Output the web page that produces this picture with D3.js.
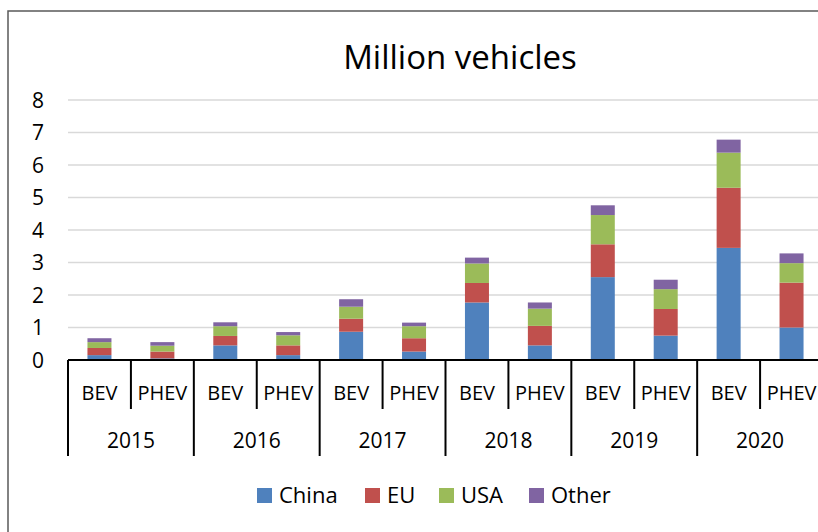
<!DOCTYPE html>
<html>
<head>
<meta charset="utf-8">
<script src="https://cdn.jsdelivr.net/npm/d3@7"></script>
<style>
  html, body { margin: 0; padding: 0; background: #fff; }
  svg { display: block; font-family: "Open Sans", "Liberation Sans", sans-serif; }
</style>
</head>
<body>
<svg id="chart" width="818" height="532"></svg>
<script>
// Electric vehicle stock by region, million vehicles
const years = ["2015", "2016", "2017", "2018", "2019", "2020"];
const types = ["BEV", "PHEV"];
const regions = ["China", "EU", "USA", "Other"];
const colors = ["#4F81BD", "#C0504D", "#9BBB59", "#8064A2"];
const yTicks = [0, 1, 2, 3, 4, 5, 6, 7, 8];

// one value per year/type pair, in order 2015 BEV, 2015 PHEV, 2016 BEV, ...
const china = [0.15, 0.05, 0.45, 0.15, 0.87, 0.26, 1.77, 0.45, 2.55, 0.75, 3.45, 1.00];
const eu    = [0.22, 0.21, 0.29, 0.30, 0.40, 0.41, 0.60, 0.60, 1.01, 0.82, 1.85, 1.38];
const usa   = [0.18, 0.18, 0.30, 0.31, 0.37, 0.37, 0.60, 0.53, 0.90, 0.61, 1.08, 0.60];
const other = [0.12, 0.11, 0.12, 0.10, 0.23, 0.11, 0.18, 0.19, 0.30, 0.29, 0.40, 0.30];

(function () {
  const series = { China: china, EU: eu, USA: usa, Other: other };
  const rows = [];
  years.forEach((yr, i) => types.forEach((t, j) => {
    const k = i * types.length + j;
    const row = { key: yr + "|" + t, year: yr, type: t };
    regions.forEach(r => row[r] = series[r][k]);
    rows.push(row);
  }));

  const svg = d3.select("#chart");
  const plotLeft = 68, plotRight = 823, plotTop = 100, plotBottom = 360;

  // outer frame
  svg.append("rect")
    .attr("x", 8).attr("y", 11).attr("width", 830).attr("height", 540)
    .attr("fill", "none").attr("stroke", "#5a5a5a").attr("stroke-width", 1.5);

  const x = d3.scaleBand().domain(rows.map(d => d.key)).range([plotLeft, plotRight]);
  const yearX = d3.scaleBand().domain(years).range([plotLeft, plotRight]);
  const y = d3.scaleLinear().domain([0, 8]).range([plotBottom, plotTop]);

  // gridlines
  svg.append("g").selectAll("line").data(yTicks.filter(t => t > 0)).join("line")
    .attr("x1", plotLeft).attr("x2", 818)
    .attr("y1", d => y(d)).attr("y2", d => y(d))
    .attr("stroke", "#d9d9d9").attr("stroke-width", 1.6);

  // y tick labels
  svg.append("g").selectAll("text").data(yTicks).join("text")
    .attr("x", 44).attr("y", d => y(d))
    .attr("dy", "0.36em")
    .attr("text-anchor", "end")
    .attr("font-size", 21).attr("fill", "#000")
    .text(d => d);

  // stacked bars
  const stacked = d3.stack().keys(regions)(rows);
  const barW = 24;
  svg.append("g").selectAll("g").data(stacked).join("g")
    .attr("fill", (d, i) => colors[i])
    .selectAll("rect").data(d => d).join("rect")
    .attr("x", d => x(d.data.key) + x.bandwidth() / 2 - barW / 2)
    .attr("width", barW)
    .attr("y", d => y(d[1]))
    .attr("height", d => y(d[0]) - y(d[1]));

  // category axis: baseline, dividers and labels
  const ax = svg.append("g");
  ax.append("line")
    .attr("x1", plotLeft).attr("x2", 818).attr("y1", plotBottom).attr("y2", plotBottom)
    .attr("stroke", "#000").attr("stroke-width", 2);

  // dividers between BEV and PHEV inside each year
  ax.selectAll("line.type").data(years).join("line")
    .attr("class", "type")
    .attr("x1", d => yearX(d) + yearX.bandwidth() / 2)
    .attr("x2", d => yearX(d) + yearX.bandwidth() / 2)
    .attr("y1", plotBottom).attr("y2", 409)
    .attr("stroke", "#000").attr("stroke-width", 2);

  // dividers between years
  ax.selectAll("line.year").data(d3.range(years.length + 1)).join("line")
    .attr("class", "year")
    .attr("x1", i => plotLeft + i * yearX.bandwidth())
    .attr("x2", i => plotLeft + i * yearX.bandwidth())
    .attr("y1", plotBottom).attr("y2", 456)
    .attr("stroke", "#000").attr("stroke-width", 2);

  ax.selectAll("text.type").data(rows).join("text")
    .attr("class", "type")
    .attr("x", d => x(d.key) + x.bandwidth() / 2)
    .attr("y", 400)
    .attr("text-anchor", "middle")
    .attr("font-size", 20).attr("fill", "#000")
    .text(d => d.type);

  ax.selectAll("text.year").data(years).join("text")
    .attr("class", "year")
    .attr("x", d => yearX(d) + yearX.bandwidth() / 2)
    .attr("y", 448)
    .attr("text-anchor", "middle")
    .attr("font-size", 21).attr("fill", "#000")
    .text(d => d);

  // title
  svg.append("text")
    .attr("x", 460).attr("y", 69)
    .attr("text-anchor", "middle")
    .attr("font-size", 33).attr("fill", "#000")
    .text("Million vehicles");

  // legend
  const legendX = [257, 365, 439, 529];
  const lg = svg.append("g").selectAll("g").data(regions).join("g")
    .attr("transform", (d, i) => `translate(${legendX[i]},0)`);
  lg.append("rect")
    .attr("x", 0).attr("y", 488).attr("width", 15).attr("height", 15)
    .attr("fill", (d, i) => colors[i]);
  lg.append("text")
    .attr("x", 22).attr("y", 503)
    .attr("font-size", 22).attr("fill", "#000")
    .text(d => d);
})();
</script>
</body>
</html>
